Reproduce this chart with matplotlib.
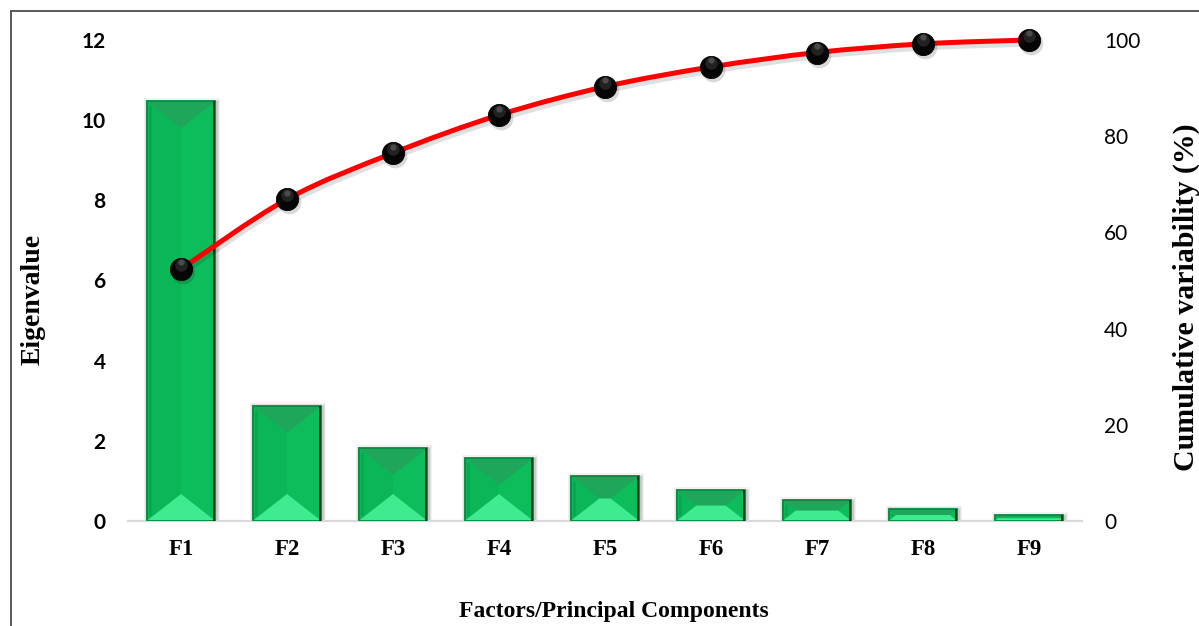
import numpy as np
import matplotlib
matplotlib.use("Agg")
import matplotlib.pyplot as plt
import matplotlib.transforms as mtransforms
from matplotlib.patches import Polygon, PathPatch
from matplotlib.path import Path
from matplotlib.lines import Line2D

# ---- data ----
factors = ["F1", "F2", "F3", "F4", "F5", "F6", "F7", "F8", "F9"]
eigenvalues = [10.47, 2.87, 1.82, 1.57, 1.12, 0.77, 0.52, 0.30, 0.14]
cumulative = [52.4, 66.9, 76.5, 84.4, 90.3, 94.4, 97.4, 99.2, 100.0]
eig_ticks = [0, 2, 4, 6, 8, 10, 12]
cum_ticks = [0, 20, 40, 60, 80, 100]

W, H = 1199, 626
DPI = 100
fig = plt.figure(figsize=(W / DPI, H / DPI), dpi=DPI)
fig.patch.set_facecolor("white")

# plot area in pixel terms
L, R, T, B = 128, 1082, 40, 521
ax = fig.add_axes([L / W, 1 - B / H, (R - L) / W, (B - T) / H])
ax.set_xlim(-0.5, len(factors) - 0.5)
ax.set_ylim(eig_ticks[0], eig_ticks[-1])
ax.set_zorder(1)
ax.patch.set_visible(False)

ax2 = ax.twinx()
ax2.set_ylim(cum_ticks[0], cum_ticks[-1])
ax2.set_zorder(2)
ax2.patch.set_visible(False)

for a in (ax, ax2):
    for s in a.spines.values():
        s.set_visible(False)
ax.spines["bottom"].set_visible(True)
ax.spines["bottom"].set_color("#d9d9d9")
ax.spines["bottom"].set_linewidth(1.6)

tick_font = "Lato"
ax.set_yticks(eig_ticks)
ax.set_yticklabels([str(t) for t in eig_ticks], fontfamily=tick_font,
                   fontweight="bold", fontsize=15, color="black")
ax.tick_params(axis="y", length=0, pad=16)
ax2.set_yticks(cum_ticks)
ax2.set_yticklabels([str(t) for t in cum_ticks], fontfamily=tick_font,
                    fontsize=15, color="black")
ax2.tick_params(axis="y", length=0, pad=16)

x = np.arange(len(factors))
ax.set_xticks(x)
ax.set_xticklabels(factors, fontfamily="Liberation Serif", fontweight="bold",
                   fontsize=16.5, color="black")
ax.tick_params(axis="x", length=0, pad=13)

fig.canvas.draw()

# ---- bevelled bars ----
bar_w = 0.65
to_data = ax.transData.inverted()


def poly_px(points_px, **kw):
    pts = to_data.transform(np.asarray(points_px, dtype=float))
    ax.add_patch(Polygon(pts, closed=True, **kw))


face = "#0cbf5c"
top_c = "#1ea75a"
bot_c = "#3eeb8e"
left_c = "#0bb658"
right_c = "#0dbd5c"

for xi, v in zip(x, eigenvalues):
    (x0, y0), (x1, y1) = ax.transData.transform([(xi - bar_w / 2, 0),
                                                 (xi + bar_w / 2, v)])
    w = x1 - x0
    h = y1 - y0
    # soft shadow
    for grow, alpha in ((4.0, 0.05), (2.5, 0.07), (1.2, 0.10)):
        poly_px([(x0 - grow + 1, y0 - grow - 1), (x1 + grow + 1, y0 - grow - 1),
                 (x1 + grow + 1, y1 + grow - 1), (x0 - grow + 1, y1 + grow - 1)],
                facecolor="black", edgecolor="none", alpha=alpha, zorder=1)
    d = min(27.0, h / 2)
    i = min(w / 2, 1.28 * d)
    poly_px([(x0, y0), (x1, y0), (x1, y1), (x0, y1)],
            facecolor=face, edgecolor="none", zorder=2)
    poly_px([(x0, y0), (x0 + i, y0 + d), (x0 + i, y1 - d), (x0, y1)],
            facecolor=left_c, edgecolor="none", zorder=3)
    poly_px([(x1, y0), (x1 - i, y0 + d), (x1 - i, y1 - d), (x1, y1)],
            facecolor=right_c, edgecolor="none", zorder=3)
    poly_px([(x0, y1), (x1, y1), (x1 - i, y1 - d), (x0 + i, y1 - d)],
            facecolor=top_c, edgecolor="none", zorder=3)
    poly_px([(x0, y0), (x1, y0), (x1 - i, y0 + d), (x0 + i, y0 + d)],
            facecolor=bot_c, edgecolor="none", zorder=3)
    # darker strip just inside the left edge
    if h > 12:
        poly_px([(x0 + 2, y0 + 5), (x0 + 5, y0 + 5), (x0 + 5, y1 - 5), (x0 + 2, y1 - 5)],
                facecolor="#08a24d", edgecolor="none", alpha=0.7, zorder=4)
    # outline, darker on the right
    poly_px([(x0, y0), (x1, y0), (x1, y1), (x0, y1)],
            facecolor="none", edgecolor="#078a41", linewidth=1.3, zorder=5)
    poly_px([(x1 - 2.5, y0), (x1, y0), (x1, y1), (x1 - 2.5, y1)],
            facecolor="#06401f", edgecolor="none", zorder=5)

ax.set_xlim(-0.5, len(factors) - 0.5)
ax.set_ylim(eig_ticks[0], eig_ticks[-1])

# ---- smoothed cumulative curve ----
pts = np.column_stack([x, cumulative]).astype(float)
ext = np.vstack([pts[0], pts, pts[-1]])
verts = [tuple(pts[0])]
codes = [Path.MOVETO]
for k in range(len(pts) - 1):
    p0, p1, p2, p3 = ext[k], ext[k + 1], ext[k + 2], ext[k + 3]
    c1 = p1 + (p2 - p0) / 6.0
    c2 = p2 - (p3 - p1) / 6.0
    verts += [tuple(c1), tuple(c2), tuple(p2)]
    codes += [Path.CURVE4] * 3
curve = Path(verts, codes)

shadow_tr = mtransforms.offset_copy(ax2.transData, fig=fig, x=1.5, y=-3.5, units="dots")
ax2.add_patch(PathPatch(curve, facecolor="none", edgecolor="black", alpha=0.12,
                        linewidth=4.5, transform=shadow_tr, zorder=1, clip_on=False))
ax2.add_patch(PathPatch(curve, facecolor="none", edgecolor="#ff0000",
                        linewidth=3.6, capstyle="round", zorder=2, clip_on=False))

# glossy black spheres
ax2.plot(x, cumulative, linestyle="none", marker="o", markersize=17,
         markerfacecolor="black", markeredgecolor="none", alpha=0.15,
         transform=mtransforms.offset_copy(ax2.transData, fig=fig, x=1.5, y=-3,
                                           units="dots"), zorder=3, clip_on=False)
ax2.plot(x, cumulative, linestyle="none", marker="o", markersize=16,
         markerfacecolor="#050505", markeredgecolor="#000000",
         markeredgewidth=0.6, zorder=4, clip_on=False)
ax2.plot(x, cumulative, linestyle="none", marker="o", markersize=9,
         markerfacecolor="#5a5a5a", markeredgecolor="none", alpha=0.35,
         transform=mtransforms.offset_copy(ax2.transData, fig=fig, x=0, y=4,
                                           units="dots"), zorder=5, clip_on=False)
ax2.plot(x, cumulative, linestyle="none", marker="o", markersize=4.5,
         markerfacecolor="#9a9a9a", markeredgecolor="none", alpha=0.35,
         transform=mtransforms.offset_copy(ax2.transData, fig=fig, x=0, y=6.5,
                                           units="dots"), zorder=6, clip_on=False)
ax2.set_xlim(-0.5, len(factors) - 0.5)
ax2.set_ylim(cum_ticks[0], cum_ticks[-1])

# ---- axis titles ----
serif = "Liberation Serif"
fig.text(33 / W, 1 - 299 / H, "Eigenvalue", rotation=90, ha="center", va="center",
         fontfamily=serif, fontweight="bold", fontsize=20)
fig.text(1186 / W, 1 - 297 / H, "Cumulative variability (%)", rotation=90,
         ha="center", va="center", fontfamily=serif, fontweight="bold", fontsize=21.5)
fig.text(614 / W, 1 - 612 / H, "Factors/Principal Components", ha="center",
         va="center", fontfamily=serif, fontweight="bold", fontsize=17)

# frame around the chart
frame_c = "#595959"
fig.add_artist(Line2D([11 / W, 11 / W], [1 - 11 / H, -0.05], color=frame_c,
                      linewidth=1.4, transform=fig.transFigure))
fig.add_artist(Line2D([11 / W, 1.05], [1 - 11 / H, 1 - 11 / H], color=frame_c,
                      linewidth=1.4, transform=fig.transFigure))

fig.savefig("out.png", dpi=DPI, facecolor="white")
